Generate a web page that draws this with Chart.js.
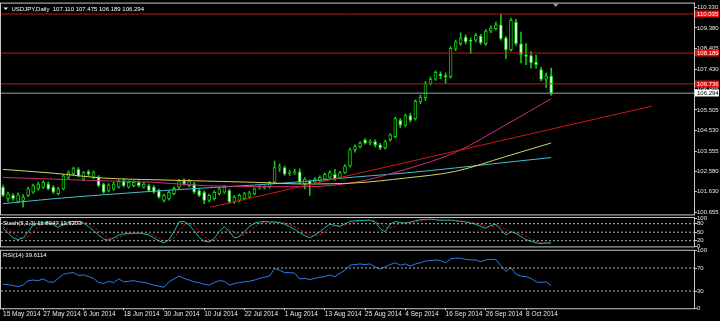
<!DOCTYPE html>
<html>
<head>
<meta charset="utf-8">
<script src="https://cdn.jsdelivr.net/npm/chart.js@4.4.1/dist/chart.umd.min.js"></script>
<style>
  html, body { margin: 0; padding: 0; background: #000; }
  #wrap { position: relative; width: 720px; height: 321px; background: #000; overflow: hidden; }
  canvas { position: absolute; left: 0; }
</style>
</head>
<body>
<div id="wrap">
  <canvas id="main" width="720" height="218" style="top:0px"></canvas>
  <canvas id="stoch" width="720" height="38" style="top:212px"></canvas>
  <canvas id="rsi" width="720" height="75" style="top:246px"></canvas>
</div>
<script>
// ---- data ----
const symbol = "USDJPY,Daily";
const dateLabels = ["15 May 2014", "27 May 2014", "6 Jun 2014", "18 Jun 2014", "30 Jun 2014",
  "10 Jul 2014", "22 Jul 2014", "1 Aug 2014", "13 Aug 2014", "25 Aug 2014", "4 Sep 2014",
  "16 Sep 2014", "26 Sep 2014", "8 Oct 2014"];
const labelStep = 8; // one date label every 8 bars

const opens = [101.85,101.30,101.46,101.15,101.22,101.46,101.61,101.77,101.85,102.00,
  101.85,101.54,101.77,102.31,102.49,102.69,102.23,102.59,102.31,102.31,
  102.00,101.69,101.77,101.85,102.15,101.85,101.92,102.08,101.85,101.92,
  101.85,101.69,101.22,101.30,101.54,101.85,102.15,101.92,102.00,101.69,
  101.61,101.22,101.30,101.54,101.61,101.69,101.15,101.22,101.30,101.38,
  101.54,101.80,101.82,101.85,102.08,102.75,102.77,102.50,102.52,102.57,
  102.00,102.15,102.08,102.15,102.23,102.31,102.46,102.31,102.54,102.85,
  103.62,103.77,104.09,103.95,104.01,103.85,103.70,104.09,104.24,105.01,
  104.78,105.24,105.09,105.88,106.08,106.75,106.96,107.20,107.12,107.07,
  108.41,108.64,108.95,108.79,108.80,108.99,108.64,109.23,109.34,109.52,
  108.91,108.35,109.65,108.63,108.10,108.07,107.76,107.41,106.96,107.110];
const highs = [101.95,101.62,101.55,101.58,101.50,101.85,102.00,102.08,102.15,102.10,
  101.92,101.85,102.45,102.62,102.80,102.78,102.60,102.66,102.62,102.40,
  102.05,102.02,102.08,102.20,102.25,102.15,102.15,102.15,102.08,102.00,
  101.92,101.76,101.52,101.68,101.86,102.22,102.25,102.22,102.08,101.76,
  101.68,101.52,101.68,101.84,101.92,101.76,101.45,101.52,101.60,101.65,
  101.82,101.92,101.92,102.12,103.08,102.95,102.85,102.65,102.70,102.72,
  102.30,102.20,102.30,102.38,102.52,102.62,102.69,102.60,102.92,103.70,
  103.85,104.00,104.15,104.10,104.09,103.92,104.08,104.38,105.15,105.10,
  105.30,105.35,105.98,106.20,106.85,107.05,107.35,107.30,107.25,108.50,
  108.80,109.15,109.05,108.90,109.12,109.08,109.30,109.48,109.65,110.05,
  108.98,109.83,109.79,109.18,108.64,108.26,108.10,107.52,107.25,107.475];
const lows = [101.40,101.18,101.22,101.10,100.90,101.40,101.55,101.70,101.78,101.72,
  101.55,101.48,101.72,102.25,102.42,102.33,102.15,102.38,102.25,101.85,
  101.55,101.62,101.70,101.80,101.86,101.80,101.86,101.86,101.80,101.62,
  101.55,101.32,101.15,101.24,101.48,101.78,101.93,101.86,101.55,101.40,
  101.07,101.15,101.24,101.48,101.55,101.08,101.08,101.15,101.25,101.32,
  101.48,101.75,101.76,101.80,102.02,102.60,102.40,102.40,102.45,102.00,
  101.77,101.46,102.00,102.10,102.18,102.26,102.18,102.25,102.50,102.80,
  103.50,103.70,103.88,103.85,103.75,103.62,103.65,104.02,104.18,104.65,
  104.70,104.92,105.02,105.80,105.95,106.68,106.90,106.98,106.75,107.00,
  108.30,108.55,108.62,108.16,108.72,108.60,108.55,109.15,109.28,108.80,
  107.93,108.28,108.55,107.72,107.64,107.48,107.48,106.87,106.56,106.189];
const closes = [101.46,101.54,101.30,101.49,101.38,101.77,101.92,102.00,102.08,101.77,
  101.61,101.77,102.38,102.54,102.73,102.38,102.54,102.46,102.54,101.92,
  101.61,101.95,102.00,102.11,101.92,102.08,102.08,101.92,102.00,101.69,
  101.61,101.38,101.46,101.61,101.80,102.15,102.00,102.15,101.61,101.46,
  101.22,101.46,101.61,101.77,101.85,101.15,101.38,101.46,101.54,101.58,
  101.77,101.85,101.85,102.08,102.77,102.80,102.46,102.55,102.57,102.08,
  102.23,102.00,102.23,102.31,102.46,102.54,102.23,102.54,102.85,103.62,
  103.77,103.93,103.93,104.01,103.85,103.70,104.01,104.32,105.09,104.78,
  105.24,105.01,105.91,106.10,106.75,106.95,107.28,107.12,107.07,108.41,
  108.72,108.87,108.72,108.75,109.03,108.67,109.23,109.37,109.52,108.87,
  108.35,109.74,108.63,108.12,108.03,107.72,107.64,106.95,107.10,106.294];

// moving averages, read at every 10th bar
const maBars = [0, 10, 20, 30, 40, 50, 60, 70, 80, 90, 100, 109];
const maYellow = [102.69, 102.51, 102.28, 102.20, 102.14, 102.08, 102.00, 102.05, 102.28, 102.60, 103.30, 103.94];
const maMagenta = [102.31, 102.23, 102.15, 102.08, 101.92, 101.88, 101.87, 102.08, 102.69, 103.50, 104.80, 106.03];
const maCyan = [101.07, 101.30, 101.49, 101.66, 101.81, 101.95, 102.12, 102.33, 102.52, 102.76, 103.02, 103.25];

// trend line end points (bar, price)
const trendBars = [41.2, 129.0];
const trendPrices = [100.90, 105.68];

const redLevels = [110.035, 108.189, 106.736];
const priceTicks = [110.330, 109.380, 108.405, 107.430, 106.455, 105.505, 104.530, 103.555, 102.580, 101.630, 100.655];

const stochK = [64,48,30,24,30,52,75,82,84,82, 76,66,78,86,88,88,82,70,56,40,
  26,22,30,40,44,46,46,47,44,40, 30,20,12,24,52,86,88,76,55,32,
  18,16,28,52,70,52,30,34,52,70, 82,86,88,86,86,84,78,70,60,48,
  38,30,40,52,66,78,74,70,80,88, 90,91,92,92,86,62,52,78,88,84,
  82,86,90,94,95,96,94,92,92,93, 90,88,86,82,78,70,64,74,78,60,
  40,52,46,34,24,18,12,10,12,11.8947];
const stochD = [70,60,47,34,28,35,52,70,80,83, 81,75,73,77,84,87,86,80,69,55,
  41,29,26,31,38,43,45,46,46,44, 38,30,21,19,29,54,75,83,73,54,
  35,22,21,32,50,58,51,39,39,52, 68,79,85,87,87,85,83,77,69,59,
  49,39,36,41,53,65,73,74,75,79, 86,90,91,92,90,80,67,64,73,83,
  85,84,86,90,93,95,95,94,93,92, 92,90,88,85,82,77,71,69,72,71,
  59,51,46,44,35,25,18,13,11,11.6203];
const stochLevels = [80, 50, 20];
const stochTicks = [100, 80, 50, 20, 0];

const rsi = [41.6,41,39.5,37.5,40.4,48,49,48,51,46, 45,52,59,61,62,57,58,55,52,45,
  43,47,44.5,51,46,47,48,46,45,43, 40,38.5,36.4,46,51,56,52,49,46,44.5,
  41.6,40.4,44.5,48,47,40.4,43,44.5,46,47, 49,52,54,56,69,66,62,62,61,51,
  52,50,52,54,55,58,55,61,66,75, 76,77,76,77,72,68,72,76,79,75,
  77,73.5,77,79,82,83,84,83,79,86, 87,87,85,84,84,81,84,85,85,74,
  64,71,59,56,55,52,46,45,46,39.6114];
const rsiLevels = [70, 30];
const rsiTicks = [100, 70, 30, 0];

// ---- setup ----
Chart.defaults.font.family = '"Liberation Sans", Arial, sans-serif';
Chart.defaults.color = '#e6e6e6';

const xMin = -0.4, xMax = 137.4;
const last = closes.length - 1;
const headerText = symbol + "  " + [opens[last], highs[last], lows[last], closes[last]].map(v => v.toFixed(3)).join(" ");
const green = '#12c812';
const frameColor = '#c8c8c8';
const textFont = '6px "Liberation Sans", Arial, sans-serif';

function hLine(v, color, dash) {
  return {
    type: 'line', data: [{ x: xMin, y: v }, { x: xMax, y: v }],
    borderColor: color, borderWidth: 1, borderDash: dash || [], pointRadius: 0, order: 1
  };
}

function series(values, color, dash) {
  return {
    type: 'line', data: values.map((v, i) => ({ x: i, y: v })),
    borderColor: color, borderWidth: 1, borderDash: dash || [], pointRadius: 0, order: 2
  };
}

function drawFrame(chart) {
  const { ctx, chartArea: a } = chart;
  ctx.save();
  ctx.strokeStyle = frameColor;
  ctx.lineWidth = 1;
  ctx.strokeRect(a.left - 0.5, a.top - 0.5, a.right - a.left + 1, a.bottom - a.top + 1);
  ctx.restore();
}

function rightAxis(min, max, ticks, fmt) {
  return {
    type: 'linear', position: 'right', min: min, max: max,
    afterFit: s => { s.width = 26; },
    afterBuildTicks: s => { s.ticks = ticks.map(v => ({ value: v })); },
    ticks: { autoSkip: false, padding: 0, font: { size: 6 }, color: '#e6e6e6', callback: fmt },
    grid: { drawOnChartArea: false, tickLength: 3, color: frameColor },
    border: { display: false }
  };
}

const baseOptions = {
  responsive: false, animation: false, devicePixelRatio: 1,
  plugins: { legend: { display: false }, tooltip: { enabled: false } }
};

// ---- main price chart ----
const mainDecor = {
  id: 'mainDecor',
  afterDraw(chart) {
    const { ctx, chartArea: a, scales: { x, y } } = chart;
    drawFrame(chart);
    ctx.save();
    ctx.font = textFont;
    ctx.textBaseline = 'middle';
    ctx.textAlign = 'left';
    ctx.fillStyle = '#ffffff';
    ctx.beginPath();
    ctx.moveTo(a.left + 2.5, a.top + 4);
    ctx.lineTo(a.left + 7, a.top + 4);
    ctx.lineTo(a.left + 4.75, a.top + 6.5);
    ctx.closePath();
    ctx.fill();
    ctx.fillText(headerText, a.left + 10.5, a.top + 5.8);

    // chart shift marker
    const sx = x.getPixelForValue(109.9);
    ctx.fillStyle = '#9a9a9a';
    ctx.beginPath();
    ctx.moveTo(sx - 3, a.top);
    ctx.lineTo(sx + 3, a.top);
    ctx.lineTo(sx, a.top + 3.5);
    ctx.closePath();
    ctx.fill();

    redLevels.forEach(v => {
      const py = Math.round(y.getPixelForValue(v));
      ctx.fillStyle = '#e01010';
      ctx.fillRect(a.right + 1, py - 3.5, 24, 7);
      ctx.fillStyle = '#ffffff';
      ctx.fillText(v.toFixed(3), a.right + 3, py);
    });
    const cp = Math.round(y.getPixelForValue(closes[last]));
    ctx.fillStyle = '#ffffff';
    ctx.fillRect(a.right + 1, cp - 3.5, 24, 7);
    ctx.fillStyle = '#000000';
    ctx.fillText(closes[last].toFixed(3), a.right + 3, cp);
    ctx.restore();
  }
};

const mainDatasets = [];
redLevels.forEach(v => mainDatasets.push(hLine(v, '#c01414')));
mainDatasets.push(hLine(closes[last], '#a0a0a0'));
mainDatasets.push({
  type: 'line', data: trendBars.map((b, i) => ({ x: b, y: trendPrices[i] })),
  borderColor: '#d01818', borderWidth: 1, pointRadius: 0, order: 2
});
[[maYellow, '#d8d060'], [maMagenta, '#c8307a'], [maCyan, '#40c0d0']].forEach(([vals, col]) => {
  mainDatasets.push({
    type: 'line', data: maBars.map((b, i) => ({ x: b, y: vals[i] })),
    borderColor: col, borderWidth: 1, pointRadius: 0, cubicInterpolationMode: 'monotone', order: 3
  });
});
mainDatasets.push({
  type: 'bar', data: closes.map((c, i) => ({ x: i, y: [opens[i], c] })),
  backgroundColor: closes.map((c, i) => c >= opens[i] ? '#000000' : '#ffffff'),
  borderColor: green, borderWidth: 1, borderSkipped: false, barThickness: 3,
  minBarLength: 1, grouped: false, order: 4
});
mainDatasets.push({
  type: 'bar', data: closes.map((c, i) => ({ x: i, y: [lows[i], highs[i]] })),
  backgroundColor: green, borderWidth: 0, barThickness: 1, grouped: false, order: 5
});

new Chart(document.getElementById('main'), {
  type: 'bar',
  data: { datasets: mainDatasets },
  options: Object.assign({}, baseOptions, {
    layout: { padding: { left: 1, top: 1, right: 0, bottom: 2 } },
    scales: {
      x: { type: 'linear', display: false, min: xMin, max: xMax, offset: false, grid: { offset: false } },
      y: rightAxis(100.562, 110.529, priceTicks, v => v.toFixed(3))
    }
  }),
  plugins: [mainDecor]
});

// ---- stochastic ----
const stochDecor = {
  id: 'stochDecor',
  afterDraw(chart) {
    const { ctx, chartArea: a } = chart;
    drawFrame(chart);
    ctx.save();
    ctx.font = textFont;
    ctx.textBaseline = 'middle';
    ctx.fillStyle = '#ffffff';
    ctx.fillText('Stoch(5,3,3) ' + stochK[last] + ' ' + stochD[last], a.left + 2, a.top + 5);
    ctx.restore();
  }
};

new Chart(document.getElementById('stoch'), {
  type: 'line',
  data: {
    datasets: stochLevels.map(v => hLine(v, '#b4b4b4', [2, 2]))
      .concat([series(stochK, '#20b2aa'), series(stochD, '#e01c1c', [2, 2])])
  },
  options: Object.assign({}, baseOptions, {
    layout: { padding: { left: 1, top: 6, right: 0, bottom: 2.5 } },
    scales: {
      x: { type: 'linear', display: false, min: xMin, max: xMax },
      y: rightAxis(0, 100, stochTicks, v => String(v))
    }
  }),
  plugins: [stochDecor]
});

// ---- RSI ----
const rsiDecor = {
  id: 'rsiDecor',
  afterDraw(chart) {
    const { ctx, chartArea: a } = chart;
    drawFrame(chart);
    ctx.save();
    ctx.font = textFont;
    ctx.textBaseline = 'middle';
    ctx.fillStyle = '#ffffff';
    ctx.fillText('RSI(14) ' + rsi[last], a.left + 2, a.top + 5);
    ctx.restore();
  }
};

new Chart(document.getElementById('rsi'), {
  type: 'line',
  data: {
    datasets: rsiLevels.map(v => hLine(v, '#b4b4b4', [2, 2])).concat([series(rsi, '#2a7fe0')])
  },
  options: Object.assign({}, baseOptions, {
    layout: { padding: { left: 1, top: 4.75, right: 0, bottom: 0 } },
    scales: {
      x: {
        type: 'linear', min: xMin, max: xMax,
        afterFit: s => { s.height = 12.75; },
        afterBuildTicks: s => { s.ticks = dateLabels.map((d, k) => ({ value: k * labelStep })); },
        ticks: {
          autoSkip: false, maxRotation: 0, align: 'start', padding: 0,
          font: { size: 6.5 }, color: '#e6e6e6',
          callback: (v, i) => dateLabels[i]
        },
        grid: { drawOnChartArea: false, tickLength: 2, color: frameColor },
        border: { display: false }
      },
      y: rightAxis(0, 100, rsiTicks, v => String(v))
    }
  }),
  plugins: [rsiDecor]
});
</script>
</body>
</html>
